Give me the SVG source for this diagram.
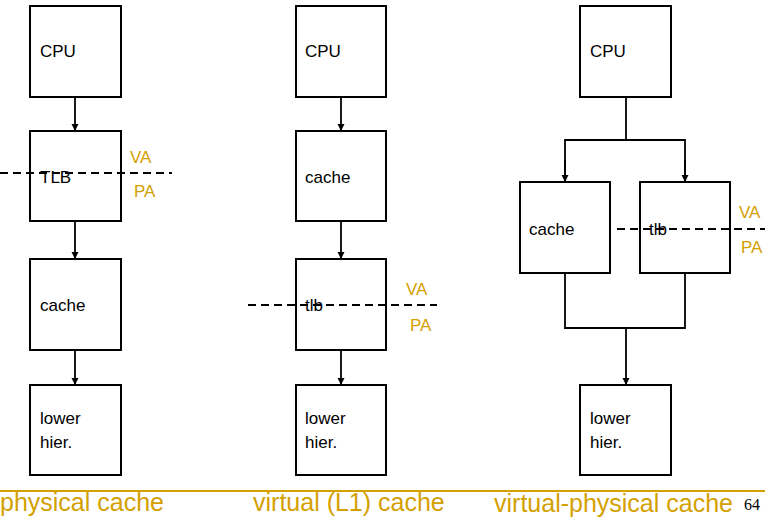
<svg xmlns="http://www.w3.org/2000/svg" width="765" height="517" viewBox="0 0 765 517">
<style>
.box{fill:#fff;stroke:#000;stroke-width:2}
.lbl{font-family:"Liberation Sans",Arial,sans-serif;font-size:17px;fill:#000}
.addr{font-family:"Liberation Sans",Arial,sans-serif;font-size:17px;fill:#d4a000}
.cap{font-family:"Liberation Sans",Arial,sans-serif;font-size:25px;fill:#d4a000}
.wire{fill:none;stroke:#000;stroke-width:1.8}
.dash{fill:none;stroke:#000;stroke-width:2;stroke-dasharray:8,5}
</style>
<defs>
<marker id="ah" viewBox="0 0 10 10" refX="10" refY="5" markerWidth="4" markerHeight="4" orient="auto" markerUnits="strokeWidth">
<path d="M0,0 L10,5 L0,10 z" fill="#000"/>
</marker>
</defs>
<rect width="765" height="517" fill="#fff"/>
<g id="connectors">
<line class="wire" x1="75" y1="97" x2="75" y2="131" marker-end="url(#ah)"/>
<line class="wire" x1="75" y1="221" x2="75" y2="259" marker-end="url(#ah)"/>
<line class="wire" x1="75" y1="350" x2="75" y2="385" marker-end="url(#ah)"/>
<line class="wire" x1="341" y1="97" x2="341" y2="131" marker-end="url(#ah)"/>
<line class="wire" x1="341" y1="221" x2="341" y2="259" marker-end="url(#ah)"/>
<line class="wire" x1="341" y1="350" x2="341" y2="385" marker-end="url(#ah)"/>
<polyline class="wire" points="626,97 626,140"/>
<polyline class="wire" points="565,182 565,140 685,140 685,182"/>
<line class="wire" x1="565" y1="160" x2="565" y2="182" marker-end="url(#ah)"/>
<line class="wire" x1="685" y1="160" x2="685" y2="182" marker-end="url(#ah)"/>
<polyline class="wire" points="565,273 565,328 685,328 685,273"/>
<line class="wire" x1="626" y1="328" x2="626" y2="385" marker-end="url(#ah)"/>
</g>
<g id="col1-cpu"><rect class="box" x="30" y="6" width="91" height="91"/><text class="lbl" x="40" y="57">CPU</text></g>
<g id="col1-tlb"><rect class="box" x="30" y="131" width="91" height="90"/><text class="lbl" x="40" y="183">TLB</text></g>
<g id="col1-cache"><rect class="box" x="30" y="259" width="91" height="91"/><text class="lbl" x="40" y="311">cache</text></g>
<g id="col1-lower"><rect class="box" x="30" y="385" width="91" height="90"/><text class="lbl" x="40" y="424">lower</text><text class="lbl" x="40" y="448">hier.</text></g>
<g id="col2-cpu"><rect class="box" x="296" y="6" width="90" height="91"/><text class="lbl" x="305" y="57">CPU</text></g>
<g id="col2-cache"><rect class="box" x="296" y="131" width="90" height="90"/><text class="lbl" x="305" y="183">cache</text></g>
<g id="col2-tlb"><rect class="box" x="296" y="259" width="90" height="91"/><text class="lbl" x="305" y="311">tlb</text></g>
<g id="col2-lower"><rect class="box" x="296" y="385" width="90" height="90"/><text class="lbl" x="305" y="424">lower</text><text class="lbl" x="305" y="448">hier.</text></g>
<g id="col3-cpu"><rect class="box" x="580" y="6" width="91" height="91"/><text class="lbl" x="590" y="57">CPU</text></g>
<g id="col3-cache"><rect class="box" x="520" y="182" width="90" height="91"/><text class="lbl" x="529" y="235">cache</text></g>
<g id="col3-tlb"><rect class="box" x="640" y="182" width="90" height="91"/><text class="lbl" x="649" y="235">tlb</text></g>
<g id="col3-lower"><rect class="box" x="580" y="385" width="91" height="90"/><text class="lbl" x="590" y="424">lower</text><text class="lbl" x="590" y="448">hier.</text></g>
<g id="boundaries">
<line class="dash" x1="0" y1="173" x2="172" y2="173"/>
<line class="dash" x1="248" y1="305" x2="437" y2="305"/>
<line class="dash" x1="617" y1="229" x2="765" y2="229"/>
<text class="addr" x="130" y="163">VA</text>
<text class="addr" x="134" y="197">PA</text>
<text class="addr" x="406" y="295">VA</text>
<text class="addr" x="410" y="331">PA</text>
<text class="addr" x="739" y="218">VA</text>
<text class="addr" x="741" y="253">PA</text>
</g>
<line x1="0" y1="491" x2="765" y2="491" stroke="#d4a000" stroke-width="2"/>
<text class="cap" x="0" y="511">physical cache</text>
<text class="cap" x="253" y="511">virtual (L1) cache</text>
<text class="cap" x="494" y="512">virtual-physical cache</text>
<text x="744" y="510" font-family="Liberation Serif,serif" font-size="16" fill="#000">64</text>
</svg>
